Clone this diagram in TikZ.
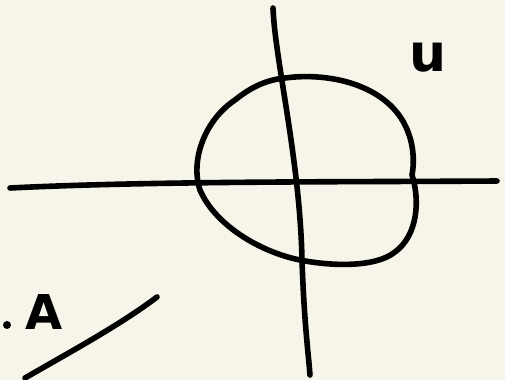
\documentclass[tikz,border=0pt]{standalone}
\usepackage{fontspec}
\setsansfont{DejaVu Sans}
\usepackage{tikz}
\usetikzlibrary{positioning}
\definecolor{paper}{RGB}{247,245,233}
\tikzset{
  ink/.style   = {line width=2.8pt, line cap=round, line join=round, black},
  hand/.style  = {font=\sffamily\bfseries, inner sep=0pt},
}

\begin{document}
\begin{tikzpicture}[x=0.5pt, y=-0.5pt]
  \fill[paper] (0,0) rectangle (505,380);
  \useasboundingbox (0,0) rectangle (505,380);
  % axes
  \draw[ink] (10,188) .. controls (150,181) and (350,182) .. (497,181);
  \draw[ink] (273,8) .. controls (275,60) and (300,160) .. (302,260)
             .. controls (304,320) and (308,350) .. (310,375);
  % the closed curve
  \draw[ink] (285,78) .. controls (330,72) and (385,85) .. (405,125)
             .. controls (415,145) and (414,165) .. (412,175)
             .. controls (420,200) and (418,235) .. (395,252)
             .. controls (375,268) and (330,266) .. (300,260)
             .. controls (260,252) and (215,225) .. (200,190)
             .. controls (190,160) and (205,120) .. (235,100)
             .. controls (250,88) and (265,80) .. (285,78);
  \node[hand, font=\sffamily\bfseries\fontsize{26}{26}\selectfont] (u) at (428,58) {u};
  % bottom left
  \fill (7,325) circle (4);
  \node[hand, font=\sffamily\bfseries\fontsize{24}{24}\selectfont] (a) at (44,312) {A};
  \draw[ink] (25,378) .. controls (70,352) and (120,325) .. (157,297);
\end{tikzpicture}
\end{document}
